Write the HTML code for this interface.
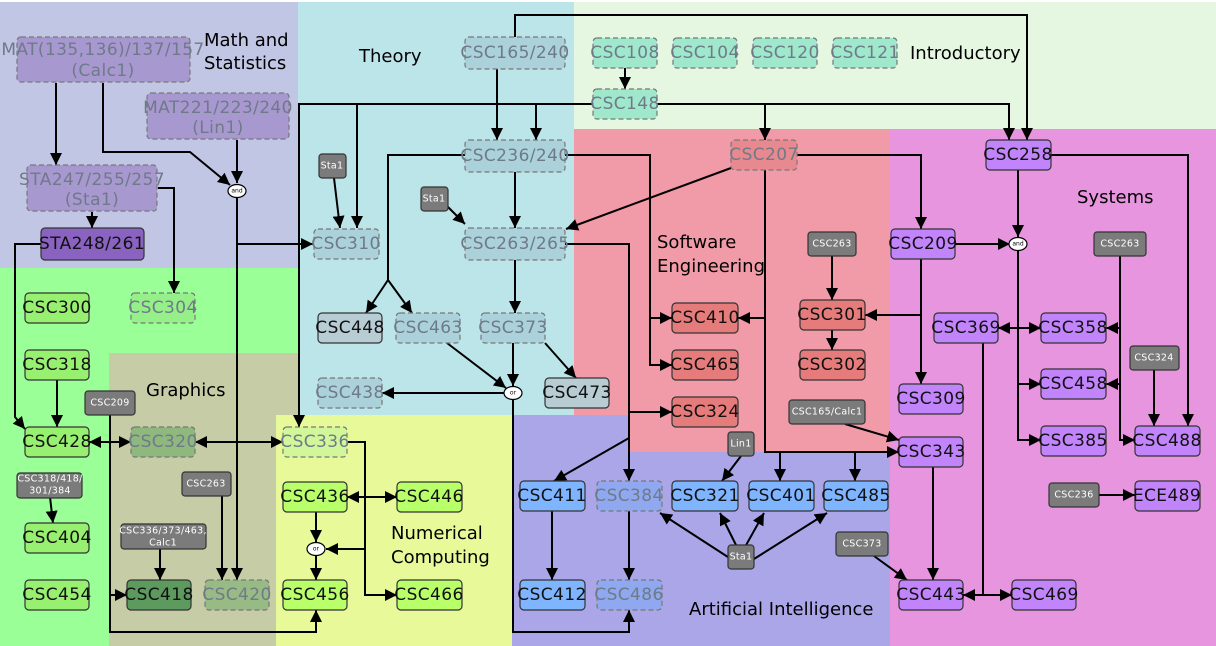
<!DOCTYPE html>
<html><head><meta charset="utf-8"><style>
html,body{margin:0;padding:0;background:#fff}
svg{display:block}
text{font-family:"DejaVu Sans","Liberation Sans",sans-serif}
.n text{font-size:17px;letter-spacing:0.4px;text-anchor:middle;dominant-baseline:central}
.d rect{stroke:#777;stroke-width:1.2;stroke-dasharray:5,3}
.d text{fill:#6f7a88}
.s rect{stroke:#333;stroke-width:1.2}
.s text{fill:#111}
.g rect{fill:#7b7b7b;stroke:#333;stroke-width:1.2}
.g text{fill:#fff;font-size:9.5px;letter-spacing:0.3px;text-anchor:middle;dominant-baseline:central}
.e path{fill:none;stroke:#000;stroke-width:2}
.lab{font-size:18px;fill:#000}
</style></head><body>
<svg width="1216" height="646" viewBox="0 0 1216 646" xmlns="http://www.w3.org/2000/svg">
<defs>
<marker id="b" viewBox="0 0 10 10" refX="10" refY="5" markerWidth="12" markerHeight="12" orient="auto-start-reverse" markerUnits="userSpaceOnUse"><path d="M0,0 L10,5 L0,10 z" fill="#000"/></marker>
</defs>
<rect x="0" y="0" width="1216" height="646" fill="#fff"/>
<rect x="0" y="2" width="298" height="266" fill="#c0c6e3"/>
<rect x="298" y="2" width="276" height="413" fill="#bce5e9"/>
<rect x="574" y="2" width="642" height="127" fill="#e6f7e1"/>
<rect x="574" y="129" width="316" height="286" fill="#f29ba8"/>
<rect x="630" y="415" width="260" height="37" fill="#f29ba8"/>
<rect x="890" y="129" width="326" height="517" fill="#e695de"/>
<rect x="512" y="415" width="118" height="231" fill="#aba6e8"/>
<rect x="630" y="452" width="260" height="194" fill="#aba6e8"/>
<rect x="0" y="268" width="298" height="378" fill="#9aff96"/>
<rect x="109" y="353" width="189" height="293" fill="#c5cca6"/>
<rect x="276" y="415" width="236" height="231" fill="#e8f99a"/>

<text class="lab" x="204" y="46">Math and</text>
<text class="lab" x="204" y="69">Statistics</text>
<text class="lab" x="359" y="62">Theory</text>
<text class="lab" x="910" y="59">Introductory</text>
<text class="lab" x="657" y="248">Software</text>
<text class="lab" x="657" y="272">Engineering</text>
<text class="lab" x="1077" y="203">Systems</text>
<text class="lab" x="146" y="396">Graphics</text>
<text class="lab" x="391" y="539">Numerical</text>
<text class="lab" x="391" y="563">Computing</text>
<text class="lab" x="689" y="615">Artificial Intelligence</text>

<g class="e">
<path d="M56,83 V165" marker-end="url(#b)"/>
<path d="M103,83 V152 H190 L230,185" marker-end="url(#b)"/>
<path d="M237,140 V183" marker-end="url(#b)"/>
<path d="M237,198 V580" marker-end="url(#b)"/>
<path d="M237,244 H313" marker-end="url(#b)"/>
<path d="M92,212 V228" marker-end="url(#b)"/>
<path d="M158,188 H174 V293" marker-end="url(#b)"/>
<path d="M41,244 H15 V417 L25,429" marker-end="url(#b)"/>
<path d="M593,104 H299 V427" marker-end="url(#b)"/>
<path d="M357,104 V228" marker-end="url(#b)"/>
<path d="M536,104 V140" marker-end="url(#b)"/>
<path d="M657,104 H765 V140" marker-end="url(#b)"/>
<path d="M765,104 H1009 V140" marker-end="url(#b)"/>
<path d="M625,68 V89" marker-end="url(#b)"/>
<path d="M515,37 V15 H1027 V140" marker-end="url(#b)"/>
<path d="M497,69 V140" marker-end="url(#b)"/>
<path d="M334,178 L340,228" marker-end="url(#b)"/>
<path d="M465,155 H388 V280 L366,313" marker-end="url(#b)"/>
<path d="M388,280 L412,313" marker-end="url(#b)"/>
<path d="M515,172 V228" marker-end="url(#b)"/>
<path d="M565,155 H650 V318 H672" marker-end="url(#b)"/>
<path d="M650,318 V365 H672" marker-end="url(#b)"/>
<path d="M448,207 L465,224" marker-end="url(#b)"/>
<path d="M731,168 L566,229" marker-end="url(#b)"/>
<path d="M565,244 H629 V481" marker-end="url(#b)"/>
<path d="M629,412 H672" marker-end="url(#b)"/>
<path d="M629,438 L554,481" marker-end="url(#b)"/>
<path d="M515,260 V313" marker-end="url(#b)"/>
<path d="M447,343 L506,388" marker-end="url(#b)"/>
<path d="M513,343 V386" marker-end="url(#b)"/>
<path d="M545,343 L576,378" marker-end="url(#b)"/>
<path d="M504,393 H382" marker-end="url(#b)"/>
<path d="M513,400 V632 H629 V610" marker-end="url(#b)"/>
<path d="M765,170 V452 H899" marker-end="url(#b)"/>
<path d="M765,318 H738" marker-end="url(#b)"/>
<path d="M780,452 V481" marker-end="url(#b)"/>
<path d="M855,452 V481" marker-end="url(#b)"/>
<path d="M797,155 H921 V229" marker-end="url(#b)"/>
<path d="M832,256 V300" marker-end="url(#b)"/>
<path d="M832,330 V350" marker-end="url(#b)"/>
<path d="M921,259 V384" marker-end="url(#b)"/>
<path d="M921,315 H865" marker-end="url(#b)"/>
<path d="M955,244 H1010" marker-end="url(#b)"/>
<path d="M1018,170 V237" marker-end="url(#b)"/>
<path d="M1018,251 V440 H1041" marker-end="url(#b)"/>
<path d="M1018,328 H998" marker-end="url(#b)"/>
<path d="M1018,328 H1041" marker-end="url(#b)"/>
<path d="M1018,384 H1041" marker-end="url(#b)"/>
<path d="M1051,155 H1188 V426" marker-end="url(#b)"/>
<path d="M1120,256 V440 H1135" marker-end="url(#b)"/>
<path d="M1120,328 H1106" marker-end="url(#b)"/>
<path d="M1120,384 H1106" marker-end="url(#b)"/>
<path d="M1154,370 V426" marker-end="url(#b)"/>
<path d="M845,424 L899,440" marker-end="url(#b)"/>
<path d="M933,467 V580" marker-end="url(#b)"/>
<path d="M983,343 V595 H963" marker-end="url(#b)"/>
<path d="M983,595 H1012" marker-end="url(#b)"/>
<path d="M874,556 L907,580" marker-end="url(#b)"/>
<path d="M1099,495 H1135" marker-end="url(#b)"/>
<path d="M741,456 L722,481" marker-end="url(#b)"/>
<path d="M731,559 L660,513" marker-end="url(#b)"/>
<path d="M737,547 L720,513" marker-end="url(#b)"/>
<path d="M745,547 L764,513" marker-end="url(#b)"/>
<path d="M754,559 L827,513" marker-end="url(#b)"/>
<path d="M552,511 V580" marker-end="url(#b)"/>
<path d="M629,511 V580" marker-end="url(#b)"/>
<path d="M347,442 H365 V595 H397" marker-end="url(#b)"/>
<path d="M365,497 H347" marker-end="url(#b)"/>
<path d="M365,497 H397" marker-end="url(#b)"/>
<path d="M365,549 H326" marker-end="url(#b)"/>
<path d="M316,512 V542" marker-end="url(#b)"/>
<path d="M316,556 V580" marker-end="url(#b)"/>
<path d="M240,442 H195" marker-end="url(#b)"/>
<path d="M240,442 H283" marker-end="url(#b)"/>
<path d="M110,442 H89" marker-end="url(#b)"/>
<path d="M110,442 H131" marker-end="url(#b)"/>
<path d="M57,380 V427" marker-end="url(#b)"/>
<path d="M50,497 L53,523" marker-end="url(#b)"/>
<path d="M110,415 V632 H316 V610" marker-end="url(#b)"/>
<path d="M110,595 H127" marker-end="url(#b)"/>
<path d="M160,549 V580" marker-end="url(#b)"/>
<path d="M222,496 V580" marker-end="url(#b)"/>
</g>

<g fill="#fff" stroke="#000" stroke-width="1.2">
<ellipse cx="237" cy="191" rx="9" ry="6.5"/>
<ellipse cx="513" cy="393" rx="9" ry="6.5"/>
<ellipse cx="1018" cy="244" rx="9" ry="6.5"/>
<ellipse cx="316" cy="549" rx="9" ry="6.5"/>
</g>
<g font-size="6" text-anchor="middle" dominant-baseline="central" fill="#000">
<text x="237" y="191">and</text><text x="513" y="393">or</text><text x="1018" y="244">and</text><text x="316" y="549">or</text>
</g>

<g class="n d">
<rect x="17" y="37" width="173" height="45" rx="4" fill="#a898d0"/><text x="103" y="50">MAT(135,136)/137/157</text><text x="103" y="71">(Calc1)</text>
<rect x="147" y="93" width="142" height="46" rx="4" fill="#a898d0"/><text x="218" y="108">MAT221/223/240</text><text x="218" y="128">(Lin1)</text>
<rect x="27" y="165" width="130" height="46" rx="4" fill="#a898d0"/><text x="92" y="180">STA247/255/257</text><text x="92" y="200">(Sta1)</text>
<rect x="465" y="37" width="100" height="32" rx="4" fill="#abd2da"/><text x="515" y="53">CSC165/240</text>
<rect x="465" y="140" width="100" height="32" rx="4" fill="#abd2da"/><text x="515" y="156">CSC236/240</text>
<rect x="465" y="228" width="100" height="32" rx="4" fill="#abd2da"/><text x="515" y="244">CSC263/265</text>
<rect x="314" y="229" width="65" height="30" rx="4" fill="#abd2da"/><text x="346" y="244">CSC310</text>
<rect x="396" y="313" width="64" height="30" rx="4" fill="#abd2da"/><text x="428" y="328">CSC463</text>
<rect x="481" y="313" width="64" height="30" rx="4" fill="#abd2da"/><text x="513" y="328">CSC373</text>
<rect x="318" y="378" width="64" height="30" rx="4" fill="#abd2da"/><text x="350" y="393">CSC438</text>
<rect x="593" y="38" width="64" height="30" rx="4" fill="#a0e8cc"/><text x="625" y="53">CSC108</text>
<rect x="673" y="38" width="64" height="30" rx="4" fill="#a0e8cc"/><text x="705" y="53">CSC104</text>
<rect x="753" y="38" width="64" height="30" rx="4" fill="#a0e8cc"/><text x="785" y="53">CSC120</text>
<rect x="833" y="38" width="64" height="30" rx="4" fill="#a0e8cc"/><text x="865" y="53">CSC121</text>
<rect x="593" y="89" width="64" height="30" rx="4" fill="#a0e8cc"/><text x="625" y="104">CSC148</text>
<rect x="731" y="140" width="66" height="30" rx="4" fill="#e8888f"/><text x="764" y="155">CSC207</text>
<rect x="597" y="481" width="65" height="30" rx="4" fill="#8fa8f0"/><text x="629" y="496">CSC384</text>
<rect x="597" y="580" width="65" height="30" rx="4" fill="#8fa8f0"/><text x="629" y="595">CSC486</text>
<rect x="283" y="427" width="64" height="30" rx="4" fill="#d2f79a"/><text x="315" y="442">CSC336</text>
<rect x="131" y="427" width="64" height="30" rx="4" fill="#8fb87e"/><text x="163" y="442">CSC320</text>
<rect x="205" y="580" width="64" height="30" rx="4" fill="#98bb85"/><text x="237" y="595">CSC420</text>
<rect x="131" y="293" width="64" height="30" rx="4" fill="#96f08a"/><text x="163" y="308">CSC304</text>
</g>

<g class="n s">
<rect x="41" y="228" width="103" height="32" rx="4" fill="#8a62c0"/><text x="92" y="244">STA248/261</text>
<rect x="318" y="313" width="64" height="30" rx="4" fill="#b8ccd4"/><text x="350" y="328">CSC448</text>
<rect x="545" y="378" width="64" height="30" rx="4" fill="#b8ccd4"/><text x="577" y="393">CSC473</text>
<g fill="#e57b7b">
<rect x="672" y="303" width="66" height="30" rx="4"/><rect x="800" y="300" width="65" height="30" rx="4"/><rect x="800" y="350" width="65" height="30" rx="4"/><rect x="672" y="350" width="66" height="30" rx="4"/><rect x="672" y="397" width="66" height="30" rx="4"/>
</g>
<text x="705" y="318">CSC410</text><text x="832" y="315">CSC301</text><text x="832" y="365">CSC302</text><text x="705" y="365">CSC465</text><text x="705" y="412">CSC324</text>
<g fill="#c184fa">
<rect x="986" y="140" width="65" height="30" rx="4"/><rect x="891" y="229" width="64" height="30" rx="4"/><rect x="934" y="313" width="64" height="30" rx="4"/><rect x="1041" y="313" width="65" height="30" rx="4"/><rect x="899" y="384" width="64" height="30" rx="4"/><rect x="1041" y="369" width="65" height="30" rx="4"/><rect x="899" y="437" width="64" height="30" rx="4"/><rect x="1041" y="426" width="65" height="30" rx="4"/><rect x="1135" y="426" width="65" height="30" rx="4"/><rect x="1135" y="481" width="65" height="30" rx="4"/><rect x="899" y="580" width="64" height="30" rx="4"/><rect x="1012" y="580" width="64" height="30" rx="4"/>
</g>
<text x="1018" y="155">CSC258</text><text x="923" y="244">CSC209</text><text x="966" y="328">CSC369</text><text x="1073" y="328">CSC358</text><text x="931" y="399">CSC309</text><text x="1073" y="384">CSC458</text><text x="931" y="452">CSC343</text><text x="1073" y="441">CSC385</text><text x="1167" y="441">CSC488</text><text x="1167" y="496">ECE489</text><text x="931" y="595">CSC443</text><text x="1044" y="595">CSC469</text>
<g fill="#7fb4ff">
<rect x="520" y="481" width="65" height="30" rx="4"/><rect x="672" y="481" width="66" height="30" rx="4"/><rect x="749" y="481" width="65" height="30" rx="4"/><rect x="824" y="481" width="64" height="30" rx="4"/><rect x="520" y="580" width="65" height="30" rx="4"/>
</g>
<text x="552" y="496">CSC411</text><text x="705" y="496">CSC321</text><text x="781" y="496">CSC401</text><text x="856" y="496">CSC485</text><text x="552" y="595">CSC412</text>
<g fill="#b8ff6a">
<rect x="283" y="482" width="64" height="30" rx="4"/><rect x="397" y="482" width="65" height="30" rx="4"/><rect x="283" y="580" width="64" height="30" rx="4"/><rect x="397" y="580" width="65" height="30" rx="4"/>
</g>
<text x="315" y="497">CSC436</text><text x="429" y="497">CSC446</text><text x="315" y="595">CSC456</text><text x="429" y="595">CSC466</text>
<g fill="#98f070">
<rect x="25" y="293" width="64" height="30" rx="4"/><rect x="25" y="350" width="64" height="30" rx="4"/><rect x="25" y="427" width="64" height="30" rx="4"/><rect x="25" y="523" width="64" height="30" rx="4"/><rect x="25" y="580" width="64" height="30" rx="4"/>
</g>
<text x="57" y="308">CSC300</text><text x="57" y="365">CSC318</text><text x="57" y="442">CSC428</text><text x="57" y="538">CSC404</text><text x="57" y="595">CSC454</text>
<rect x="127" y="580" width="64" height="30" rx="4" fill="#5c9a5e"/><text x="159" y="595">CSC418</text>
</g>

<g class="g">
<rect x="319" y="154" width="27" height="24" rx="3"/><text x="332" y="166">Sta1</text>
<rect x="421" y="187" width="27" height="24" rx="3"/><text x="434" y="199">Sta1</text>
<rect x="808" y="232" width="48" height="24" rx="3"/><text x="832" y="244">CSC263</text>
<rect x="1094" y="232" width="52" height="24" rx="3"/><text x="1120" y="244">CSC263</text>
<rect x="1130" y="346" width="49" height="24" rx="3"/><text x="1154" y="358">CSC324</text>
<rect x="789" y="400" width="76" height="24" rx="3"/><text x="827" y="412">CSC165/Calc1</text>
<rect x="728" y="432" width="26" height="24" rx="3"/><text x="741" y="444">Lin1</text>
<rect x="1049" y="483" width="50" height="24" rx="3"/><text x="1074" y="495">CSC236</text>
<rect x="728" y="545" width="26" height="24" rx="3"/><text x="741" y="557">Sta1</text>
<rect x="836" y="532" width="52" height="24" rx="3"/><text x="862" y="544">CSC373</text>
<rect x="85" y="391" width="50" height="24" rx="3"/><text x="110" y="403">CSC209</text>
<rect x="182" y="472" width="49" height="24" rx="3"/><text x="206" y="484">CSC263</text>
<rect x="17" y="473" width="65" height="25" rx="3"/><text x="50" y="479">CSC318/418/</text><text x="50" y="491">301/384</text>
<rect x="121" y="524" width="85" height="25" rx="3"/><text x="163" y="531">CSC336/373/463,</text><text x="163" y="543">Calc1</text>
</g>
</svg>
</body></html>
